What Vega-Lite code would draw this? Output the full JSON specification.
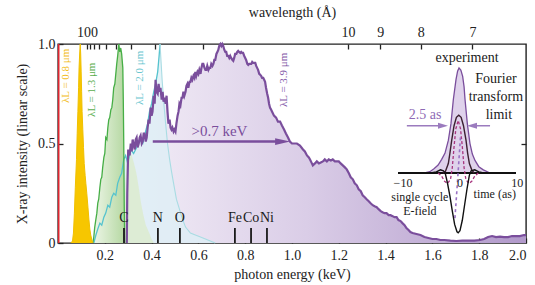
{
  "$schema": "https://vega.github.io/schema/vega-lite/v6.json",
  "width": 468,
  "height": 199,
  "autosize": {"type": "none"},
  "padding": {"left": 58, "top": 44, "right": 9, "bottom": 42},
  "background": "white",
  "config": {
    "font": "Liberation Serif",
    "view": {"stroke": "#222222", "strokeWidth": 1.4},
    "axis": {
      "labelFont": "Liberation Serif", "titleFont": "Liberation Serif",
      "labelFontSize": 14, "titleFontSize": 14, "titleFontWeight": "normal",
      "labelColor": "#222222", "titleColor": "#222222", "grid": false,
      "tickColor": "#222222", "tickSize": -5, "tickWidth": 1.3, "domain": false
    },
    "text": {"font": "Liberation Serif"}
  },
  "datasets": {
    "purple": [
      {"e":0.294,"i":0},{"e":0.296,"i":0.25},{"e":0.300,"i":0.47},{"e":0.306,"i":0.44},{"e":0.311,"i":0.50},{"e":0.315,"i":0.46},{"e":0.319,"i":0.52},{"e":0.324,"i":0.49},{"e":0.328,"i":0.47},{"e":0.332,"i":0.52},{"e":0.336,"i":0.53},{"e":0.340,"i":0.48},{"e":0.345,"i":0.50},{"e":0.349,"i":0.53},{"e":0.353,"i":0.54},{"e":0.358,"i":0.50},{"e":0.362,"i":0.51},{"e":0.366,"i":0.55},{"e":0.370,"i":0.55},{"e":0.375,"i":0.51},{"e":0.379,"i":0.53},{"e":0.383,"i":0.58},{"e":0.387,"i":0.62},{"e":0.391,"i":0.60},{"e":0.396,"i":0.68},{"e":0.400,"i":0.64},{"e":0.404,"i":0.66},{"e":0.409,"i":0.74},{"e":0.413,"i":0.70},{"e":0.417,"i":0.82},{"e":0.421,"i":0.76},{"e":0.426,"i":0.75},{"e":0.430,"i":0.80},{"e":0.434,"i":0.76},{"e":0.438,"i":0.78},{"e":0.443,"i":0.72},{"e":0.447,"i":0.76},{"e":0.451,"i":0.71},{"e":0.455,"i":0.73},{"e":0.460,"i":0.70},{"e":0.464,"i":0.74},{"e":0.468,"i":0.66},{"e":0.472,"i":0.60},{"e":0.477,"i":0.62},{"e":0.481,"i":0.58},{"e":0.485,"i":0.57},{"e":0.489,"i":0.58},{"e":0.494,"i":0.56},{"e":0.498,"i":0.57},{"e":0.502,"i":0.56},{"e":0.506,"i":0.60},{"e":0.511,"i":0.64},{"e":0.515,"i":0.66},{"e":0.519,"i":0.70},{"e":0.523,"i":0.69},{"e":0.528,"i":0.73},{"e":0.532,"i":0.73},{"e":0.536,"i":0.76},{"e":0.540,"i":0.74},{"e":0.545,"i":0.76},{"e":0.549,"i":0.79},{"e":0.553,"i":0.80},{"e":0.557,"i":0.78},{"e":0.562,"i":0.81},{"e":0.566,"i":0.81},{"e":0.570,"i":0.83},{"e":0.574,"i":0.82},{"e":0.579,"i":0.84},{"e":0.583,"i":0.83},{"e":0.587,"i":0.86},{"e":0.591,"i":0.84},{"e":0.596,"i":0.86},{"e":0.600,"i":0.85},{"e":0.604,"i":0.87},{"e":0.609,"i":0.85},{"e":0.613,"i":0.88},{"e":0.617,"i":0.90},{"e":0.621,"i":0.90},{"e":0.626,"i":0.88},{"e":0.630,"i":0.87},{"e":0.634,"i":0.87},{"e":0.638,"i":0.89},{"e":0.643,"i":0.87},{"e":0.647,"i":0.88},{"e":0.651,"i":0.88},{"e":0.655,"i":0.90},{"e":0.660,"i":0.89},{"e":0.664,"i":0.90},{"e":0.668,"i":0.92},{"e":0.672,"i":0.92},{"e":0.677,"i":0.95},{"e":0.681,"i":0.96},{"e":0.685,"i":0.97},{"e":0.689,"i":0.99},{"e":0.694,"i":1.0},{"e":0.698,"i":0.99},{"e":0.702,"i":1.0},{"e":0.706,"i":0.99},{"e":0.711,"i":0.97},{"e":0.715,"i":0.96},{"e":0.719,"i":0.96},{"e":0.723,"i":0.94},{"e":0.728,"i":0.94},{"e":0.732,"i":0.93},{"e":0.736,"i":0.94},{"e":0.740,"i":0.93},{"e":0.745,"i":0.92},{"e":0.749,"i":0.915},{"e":0.753,"i":0.93},{"e":0.757,"i":0.95},{"e":0.762,"i":0.95},{"e":0.766,"i":0.96},{"e":0.770,"i":0.965},{"e":0.774,"i":0.96},{"e":0.779,"i":0.955},{"e":0.783,"i":0.96},{"e":0.787,"i":0.955},{"e":0.791,"i":0.955},{"e":0.796,"i":0.94},{"e":0.800,"i":0.93},{"e":0.804,"i":0.92},{"e":0.809,"i":0.90},{"e":0.813,"i":0.895},{"e":0.817,"i":0.90},{"e":0.821,"i":0.90},{"e":0.826,"i":0.90},{"e":0.830,"i":0.91},{"e":0.834,"i":0.905},{"e":0.838,"i":0.905},{"e":0.843,"i":0.905},{"e":0.847,"i":0.89},{"e":0.851,"i":0.88},{"e":0.855,"i":0.87},{"e":0.860,"i":0.85},{"e":0.864,"i":0.845},{"e":0.868,"i":0.84},{"e":0.872,"i":0.83},{"e":0.877,"i":0.83},{"e":0.881,"i":0.82},{"e":0.885,"i":0.81},{"e":0.889,"i":0.78},{"e":0.894,"i":0.75},{"e":0.898,"i":0.73},{"e":0.902,"i":0.70},{"e":0.906,"i":0.68},{"e":0.911,"i":0.67},{"e":0.915,"i":0.66},{"e":0.923,"i":0.64},{"e":0.932,"i":0.63},{"e":0.940,"i":0.61},{"e":0.949,"i":0.61},{"e":0.957,"i":0.59},{"e":0.966,"i":0.57},{"e":0.974,"i":0.55},{"e":0.983,"i":0.53},{"e":0.991,"i":0.51},{"e":1.000,"i":0.50},{"e":1.009,"i":0.50},{"e":1.021,"i":0.50},{"e":1.034,"i":0.49},{"e":1.047,"i":0.47},{"e":1.055,"i":0.46},{"e":1.064,"i":0.44},{"e":1.072,"i":0.43},{"e":1.077,"i":0.42},{"e":1.085,"i":0.40},{"e":1.089,"i":0.39},{"e":1.098,"i":0.40},{"e":1.106,"i":0.41},{"e":1.115,"i":0.40},{"e":1.123,"i":0.405},{"e":1.132,"i":0.41},{"e":1.140,"i":0.42},{"e":1.149,"i":0.41},{"e":1.157,"i":0.42},{"e":1.166,"i":0.415},{"e":1.174,"i":0.42},{"e":1.183,"i":0.41},{"e":1.191,"i":0.41},{"e":1.200,"i":0.41},{"e":1.208,"i":0.40},{"e":1.217,"i":0.39},{"e":1.226,"i":0.38},{"e":1.234,"i":0.37},{"e":1.243,"i":0.35},{"e":1.251,"i":0.33},{"e":1.260,"i":0.32},{"e":1.268,"i":0.30},{"e":1.277,"i":0.29},{"e":1.285,"i":0.27},{"e":1.294,"i":0.26},{"e":1.302,"i":0.24},{"e":1.311,"i":0.23},{"e":1.319,"i":0.22},{"e":1.328,"i":0.21},{"e":1.336,"i":0.20},{"e":1.345,"i":0.19},{"e":1.353,"i":0.185},{"e":1.362,"i":0.18},{"e":1.370,"i":0.17},{"e":1.379,"i":0.16},{"e":1.387,"i":0.155},{"e":1.396,"i":0.15},{"e":1.404,"i":0.15},{"e":1.413,"i":0.14},{"e":1.421,"i":0.14},{"e":1.430,"i":0.135},{"e":1.438,"i":0.13},{"e":1.447,"i":0.13},{"e":1.455,"i":0.115},{"e":1.464,"i":0.11},{"e":1.472,"i":0.10},{"e":1.481,"i":0.09},{"e":1.489,"i":0.075},{"e":1.498,"i":0.065},{"e":1.506,"i":0.055},{"e":1.515,"i":0.05},{"e":1.532,"i":0.045},{"e":1.549,"i":0.04},{"e":1.566,"i":0.03},{"e":1.583,"i":0.025},{"e":1.600,"i":0.02},{"e":1.617,"i":0.02},{"e":1.634,"i":0.015},{"e":1.651,"i":0.015},{"e":1.677,"i":0.012},{"e":1.702,"i":0.01},{"e":1.728,"i":0.012},{"e":1.753,"i":0.012},{"e":1.779,"i":0.012},{"e":1.804,"i":0.015},{"e":1.821,"i":0.02},{"e":1.838,"i":0.03},{"e":1.855,"i":0.035},{"e":1.872,"i":0.03},{"e":1.889,"i":0.032},{"e":1.906,"i":0.03},{"e":1.923,"i":0.03},{"e":1.940,"i":0.035},{"e":1.957,"i":0.035},{"e":1.974,"i":0.035},{"e":1.991,"i":0.04},{"e":2.0,"i":0.04}
    ],
    "yellow": [
      {"e":0.055,"i":0},{"e":0.062,"i":0.01},{"e":0.066,"i":0.05},{"e":0.070,"i":0.15},{"e":0.074,"i":0.28},{"e":0.079,"i":0.42},{"e":0.082,"i":0.55},{"e":0.085,"i":0.66},{"e":0.088,"i":0.78},{"e":0.090,"i":0.88},{"e":0.093,"i":0.96},{"e":0.095,"i":1.0},{"e":0.097,"i":0.95},{"e":0.099,"i":0.86},{"e":0.101,"i":0.76},{"e":0.103,"i":0.66},{"e":0.106,"i":0.57},{"e":0.109,"i":0.48},{"e":0.112,"i":0.40},{"e":0.116,"i":0.34},{"e":0.119,"i":0.30},{"e":0.123,"i":0.25},{"e":0.128,"i":0.18},{"e":0.132,"i":0.12},{"e":0.136,"i":0.07},{"e":0.140,"i":0.04},{"e":0.145,"i":0.015},{"e":0.149,"i":0}
    ],
    "yellow2": [
      {"e":0.098,"i":0},{"e":0.105,"i":0.1},{"e":0.112,"i":0.16},{"e":0.118,"i":0.18},{"e":0.124,"i":0.15},{"e":0.130,"i":0.10},{"e":0.136,"i":0.05},{"e":0.142,"i":0.02},{"e":0.150,"i":0}
    ],
    "green": [
      {"e":0.149,"i":0},{"e":0.153,"i":0.03},{"e":0.157,"i":0.08},{"e":0.162,"i":0.12},{"e":0.166,"i":0.15},{"e":0.170,"i":0.2},{"e":0.174,"i":0.22},{"e":0.179,"i":0.28},{"e":0.183,"i":0.32},{"e":0.187,"i":0.33},{"e":0.191,"i":0.38},{"e":0.196,"i":0.43},{"e":0.200,"i":0.45},{"e":0.204,"i":0.53},{"e":0.209,"i":0.52},{"e":0.213,"i":0.58},{"e":0.217,"i":0.62},{"e":0.221,"i":0.63},{"e":0.226,"i":0.67},{"e":0.230,"i":0.68},{"e":0.234,"i":0.72},{"e":0.238,"i":0.78},{"e":0.243,"i":0.80},{"e":0.247,"i":0.85},{"e":0.251,"i":0.90},{"e":0.255,"i":0.94},{"e":0.260,"i":1.0},{"e":0.264,"i":0.96},{"e":0.268,"i":0.98},{"e":0.272,"i":0.95},{"e":0.277,"i":0.88},{"e":0.279,"i":0.72},{"e":0.281,"i":0.5},{"e":0.283,"i":0.2},{"e":0.285,"i":0}
    ],
    "green2": [
      {"e":0.285,"i":0},{"e":0.288,"i":0.3},{"e":0.295,"i":0.42},{"e":0.305,"i":0.46},{"e":0.315,"i":0.44},{"e":0.325,"i":0.40},{"e":0.335,"i":0.35},{"e":0.345,"i":0.28},{"e":0.355,"i":0.2},{"e":0.365,"i":0.14},{"e":0.375,"i":0.09},{"e":0.39,"i":0.05},{"e":0.40,"i":0.02},{"e":0.41,"i":0}
    ],
    "cyan": [
      {"e":0.153,"i":0},{"e":0.162,"i":0.04},{"e":0.170,"i":0.07},{"e":0.179,"i":0.1},{"e":0.187,"i":0.09},{"e":0.196,"i":0.13},{"e":0.204,"i":0.15},{"e":0.213,"i":0.19},{"e":0.221,"i":0.18},{"e":0.230,"i":0.23},{"e":0.238,"i":0.25},{"e":0.247,"i":0.24},{"e":0.255,"i":0.30},{"e":0.264,"i":0.33},{"e":0.272,"i":0.35},{"e":0.281,"i":0.42},{"e":0.289,"i":0.44},{"e":0.298,"i":0.40},{"e":0.311,"i":0.47},{"e":0.323,"i":0.45},{"e":0.336,"i":0.48},{"e":0.349,"i":0.52},{"e":0.362,"i":0.50},{"e":0.374,"i":0.56},{"e":0.383,"i":0.60},{"e":0.391,"i":0.66},{"e":0.400,"i":0.70},{"e":0.409,"i":0.76},{"e":0.417,"i":0.80},{"e":0.426,"i":0.86},{"e":0.432,"i":0.94},{"e":0.436,"i":1.0},{"e":0.440,"i":0.92},{"e":0.445,"i":0.82},{"e":0.451,"i":0.72},{"e":0.460,"i":0.60},{"e":0.468,"i":0.50},{"e":0.477,"i":0.42},{"e":0.485,"i":0.36},{"e":0.494,"i":0.30},{"e":0.506,"i":0.22},{"e":0.519,"i":0.17},{"e":0.532,"i":0.12},{"e":0.545,"i":0.08},{"e":0.566,"i":0.05},{"e":0.587,"i":0.04},{"e":0.609,"i":0.03},{"e":0.630,"i":0.02},{"e":0.651,"i":0.01},{"e":0.672,"i":0}
    ],
    "elements": [
      {"e":0.282,"label":"C"},{"e":0.427,"label":"N"},{"e":0.521,"label":"O"},{"e":0.756,"label":"Fe"},{"e":0.825,"label":"Co"},{"e":0.893,"label":"Ni"}
    ],
    "laser": [
      {"e":0.036,"i":0.84,"s":"0.8","text":"λL = 0.8 μm"},
      {"e":0.145,"i":0.77,"s":"1.3","text":"λL = 1.3 μm"},
      {"e":0.352,"i":0.83,"s":"2.0","text":"λL = 2.0 μm"},
      {"e":0.966,"i":0.82,"s":"3.9","text":"λL = 3.9 μm"}
    ],
    "arrow": [{"e":0.405,"i":0.51},{"e":0.955,"i":0.51}],
    "arrowhead": [{"e":0.960,"i":0.51}],
    "keV": [{"e":0.69,"i":0.565,"text":">0.7 keV"}],
    "red": [{"e":0.003}],
    "axisdummy": [{"e":1,"i":0.5}],
    "baseline": [{"t":-10,"v":0},{"t":10,"v":0}],
    "experiment": [
      {"t":-5.5,"v":0},{"t":-4.6,"v":0.012},{"t":-3.9,"v":0.04},{"t":-3.2,"v":0.076},{"t":-2.6,"v":0.13},{"t":-2.03,"v":0.19},{"t":-1.47,"v":0.31},{"t":-1.02,"v":0.47},{"t":-0.62,"v":0.70},{"t":-0.17,"v":0.89},{"t":0.1,"v":0.97},{"t":0.34,"v":1.0},{"t":0.65,"v":0.98},{"t":0.96,"v":0.92},{"t":1.2,"v":0.82},{"t":1.36,"v":0.70},{"t":1.75,"v":0.47},{"t":2.2,"v":0.28},{"t":2.6,"v":0.18},{"t":3.05,"v":0.12},{"t":3.7,"v":0.06},{"t":4.46,"v":0.03},{"t":5.6,"v":0}
    ],
    "ftlimit": [
      {"t":-2.4,"v":0},{"t":-2.0,"v":0.01},{"t":-1.47,"v":0.09},{"t":-1.2,"v":0.19},{"t":-0.9,"v":0.31},{"t":-0.5,"v":0.45},{"t":-0.1,"v":0.53},{"t":0.3,"v":0.55},{"t":0.7,"v":0.53},{"t":1.1,"v":0.45},{"t":1.53,"v":0.31},{"t":1.8,"v":0.19},{"t":2.1,"v":0.09},{"t":2.5,"v":0.03},{"t":2.9,"v":0}
    ],
    "efield": [
      {"t":-4.5,"v":0},{"t":-3.5,"v":0.01},{"t":-2.8,"v":0.03},{"t":-2.3,"v":0.02},{"t":-2.0,"v":0},{"t":-1.6,"v":-0.1},{"t":-1.2,"v":-0.22},{"t":-0.8,"v":-0.36},{"t":-0.4,"v":-0.49},{"t":0,"v":-0.56},{"t":0.2,"v":-0.57},{"t":0.5,"v":-0.55},{"t":0.9,"v":-0.45},{"t":1.3,"v":-0.3},{"t":1.7,"v":-0.15},{"t":2.1,"v":-0.02},{"t":2.4,"v":0.02},{"t":3.0,"v":0.03},{"t":3.7,"v":0.01},{"t":4.5,"v":0}
    ],
    "magenta": [
      {"t":-3.2,"v":0},{"t":-2.6,"v":-0.03},{"t":-2.1,"v":-0.08},{"t":-1.6,"v":-0.1},{"t":-1.1,"v":-0.06},{"t":-0.8,"v":0.05},{"t":-0.5,"v":0.25},{"t":-0.2,"v":0.42},{"t":0.2,"v":0.5},{"t":0.6,"v":0.42},{"t":0.9,"v":0.25},{"t":1.2,"v":0.05},{"t":1.5,"v":-0.06},{"t":2.0,"v":-0.1},{"t":2.5,"v":-0.08},{"t":3.0,"v":-0.03},{"t":3.6,"v":0}
    ],
    "violetdash": [
      {"t":0.6,"v":0.35},{"t":0.3,"v":0.1},{"t":0.0,"v":-0.15},{"t":-0.35,"v":-0.43}
    ],
    "insetarrows": [
      {"g":"left","t":-8.5,"v":0.45},{"g":"left","t":-2.5,"v":0.45},
      {"g":"right","t":5.6,"v":0.45},{"g":"right","t":2.7,"v":0.45}
    ],
    "headleft": [{"t":-2.37,"v":0.45}],
    "headright": [{"t":2.54,"v":0.45}],
    "insetbig": [
      {"t":1.7,"v":1.10,"text":"experiment"},
      {"t":6.6,"v":0.90,"text":"Fourier"},
      {"t":6.6,"v":0.72,"text":"transform"},
      {"t":7.1,"v":0.55,"text":"limit"}
    ],
    "insetsmall": [
      {"t":-9.15,"v":-0.095,"text":"−10"},
      {"t":0.5,"v":-0.095,"text":"0"},
      {"t":10.2,"v":-0.095,"text":"10"},
      {"t":6.4,"v":-0.2,"text":"time (as)"},
      {"t":-6.3,"v":-0.23,"text":"single cycle"},
      {"t":-6.3,"v":-0.365,"text":"E-field"}
    ],
    "duration": [{"t":-5.4,"v":0.55,"text":"2.5 as"}]
  },
  "layer": [
    {
      "layer": [
        {
          "data": {"name": "purple"},
          "mark": {"type": "area", "color": {"gradient": "linear", "x1": 0, "x2": 1, "y1": 0, "y2": 0, "stops": [{"offset": 0, "color": "#F3EEF7"}, {"offset": 0.45, "color": "#DACDE7"}, {"offset": 1, "color": "#B199CA"}]}},
          "encoding": {
            "x": {"field": "e", "type": "quantitative", "scale": {"domain": [0, 2], "nice": false, "zero": false},
              "axis": {"orient": "bottom", "values": [0.2,0.4,0.6,0.8,1.0,1.2,1.4,1.6,1.8,2.0], "format": ".1f", "title": "photon energy (keV)", "labelPadding": 10, "titlePadding": 5, "labelFont": "Liberation Serif", "titleFont": "Liberation Serif"}},
            "y": {"field": "i", "type": "quantitative", "scale": {"domain": [0, 1], "nice": false, "zero": false},
              "axis": {"orient": "left", "values": [0, 0.5, 1], "labelExpr": "datum.value == 0 ? '0' : format(datum.value, '.1f')", "title": "X-ray intensity (linear scale)", "labelPadding": 8, "titlePadding": 8, "labelFont": "Liberation Serif", "titleFont": "Liberation Serif"}}
          }
        },
        {
          "data": {"name": "yellow2"},
          "mark": {"type": "area", "color": "#FAF0A6"},
          "encoding": {"x": {"field": "e", "type": "quantitative"}, "y": {"field": "i", "type": "quantitative"}}
        },
        {
          "data": {"name": "cyan"},
          "mark": {"type": "area", "color": "#DCEFF5", "opacity": 0.75},
          "encoding": {"x": {"field": "e", "type": "quantitative"}, "y": {"field": "i", "type": "quantitative"}}
        },
        {
          "data": {"name": "green2"},
          "mark": {"type": "area", "color": "#DCEBCD", "opacity": 0.8},
          "encoding": {"x": {"field": "e", "type": "quantitative"}, "y": {"field": "i", "type": "quantitative"}}
        },
        {
          "data": {"name": "green"},
          "mark": {"type": "area", "color": {"gradient": "linear", "x1": 0, "x2": 1, "y1": 0, "y2": 0, "stops": [{"offset": 0, "color": "#EEF6E8"}, {"offset": 1, "color": "#B5D8A2"}]}},
          "encoding": {"x": {"field": "e", "type": "quantitative"}, "y": {"field": "i", "type": "quantitative"}}
        },
        {
          "data": {"name": "yellow"},
          "mark": {"type": "area", "color": "#F7C600"},
          "encoding": {"x": {"field": "e", "type": "quantitative"}, "y": {"field": "i", "type": "quantitative"}}
        },
        {
          "data": {"name": "cyan"},
          "transform": [{"filter": "datum.e <= 0.436"}],
          "mark": {"type": "line", "color": "#55C3CE", "strokeWidth": 1.3},
          "encoding": {"x": {"field": "e", "type": "quantitative"}, "y": {"field": "i", "type": "quantitative"}}
        },
        {
          "data": {"name": "cyan"},
          "transform": [{"filter": "datum.e >= 0.436"}],
          "mark": {"type": "line", "color": "#A9DCE3", "strokeWidth": 1.1},
          "encoding": {"x": {"field": "e", "type": "quantitative"}, "y": {"field": "i", "type": "quantitative"}}
        },
        {
          "data": {"name": "green"},
          "mark": {"type": "line", "color": "#46AE46", "strokeWidth": 1.3},
          "encoding": {"x": {"field": "e", "type": "quantitative"}, "y": {"field": "i", "type": "quantitative"}}
        },
        {
          "data": {"name": "yellow"},
          "mark": {"type": "line", "color": "#F0C000", "strokeWidth": 1},
          "encoding": {"x": {"field": "e", "type": "quantitative"}, "y": {"field": "i", "type": "quantitative"}}
        },
        {
          "data": {"name": "purple"},
          "mark": {"type": "line", "color": "#7A4E9C", "strokeWidth": 2.2},
          "encoding": {"x": {"field": "e", "type": "quantitative"}, "y": {"field": "i", "type": "quantitative"}}
        },
        {
          "data": {"name": "red"},
          "mark": {"type": "rule", "color": "#E0262F", "strokeWidth": 1.6},
          "encoding": {"x": {"field": "e", "type": "quantitative"}, "y": {"datum": 0}, "y2": {"datum": 1}}
        },
        {
          "data": {"name": "elements"},
          "mark": {"type": "rule", "color": "#1a1a1a", "strokeWidth": 1.8},
          "encoding": {"x": {"field": "e", "type": "quantitative"}, "y": {"datum": 0}, "y2": {"datum": 0.075}}
        },
        {
          "data": {"name": "elements"},
          "mark": {"type": "text", "fontSize": 14, "color": "#1a1a1a", "baseline": "middle", "align": "center"},
          "encoding": {"x": {"field": "e", "type": "quantitative"}, "y": {"datum": 0.125}, "text": {"field": "label"}}
        },
        {
          "data": {"name": "laser"},
          "mark": {"type": "text", "fontSize": 11, "angle": 270, "baseline": "middle", "align": "center"},
          "encoding": {
            "x": {"field": "e", "type": "quantitative"}, "y": {"field": "i", "type": "quantitative"},
            "text": {"field": "text"},
            "color": {"field": "s", "type": "nominal", "scale": {"domain": ["0.8", "1.3", "2.0", "3.9"], "range": ["#F2BE1E", "#5BAE4E", "#6CC6D0", "#8359A8"]}, "legend": null}
          }
        },
        {
          "data": {"name": "arrow"},
          "mark": {"type": "line", "color": "#7A4E9C", "strokeWidth": 2.5},
          "encoding": {"x": {"field": "e", "type": "quantitative"}, "y": {"field": "i", "type": "quantitative"}}
        },
        {
          "data": {"name": "arrowhead"},
          "mark": {"type": "point", "shape": "M-1,-0.45L1,0L-1,0.45Z", "size": 225, "filled": true, "opacity": 1, "color": "#7A4E9C"},
          "encoding": {"x": {"field": "e", "type": "quantitative"}, "y": {"field": "i", "type": "quantitative"}}
        },
        {
          "data": {"name": "keV"},
          "mark": {"type": "text", "fontSize": 15, "color": "#7A4E9C", "baseline": "middle", "align": "center"},
          "encoding": {"x": {"field": "e", "type": "quantitative"}, "y": {"field": "i", "type": "quantitative"}, "text": {"field": "text"}}
        }
      ]
    },
    {
      "layer": [
        {
          "data": {"name": "axisdummy"},
          "mark": {"type": "point", "opacity": 0},
          "encoding": {
            "x": {"field": "e", "type": "quantitative", "scale": {"domain": [0, 2], "nice": false, "zero": false},
              "axis": {"orient": "top", "values": [0.12398,0.13776,0.15498,0.17711,0.20663,0.24796,0.30995,0.41327,0.6199,1.2398,1.37756,1.54975,1.77114],
                "labelExpr": "indexof([100,10,9,8,7], round(12.398/datum.value)) >= 0 ? '' + round(12.398/datum.value) : ''",
                "title": "wavelength (Å)", "labelPadding": 10, "titlePadding": 6, "labelFont": "Liberation Serif", "titleFont": "Liberation Serif"}},
            "y": {"field": "i", "type": "quantitative", "scale": {"domain": [0, 1], "nice": false, "zero": false},
              "axis": {"orient": "right", "values": [0.5], "labels": false, "title": null}}
          }
        }
      ]
    },
    {
      "layer": [
        {
          "data": {"name": "experiment"},
          "mark": {"type": "area", "color": "#D2BFE3", "line": {"color": "#7A4E9C", "strokeWidth": 1.3}},
          "encoding": {
            "x": {"field": "t", "type": "quantitative", "scale": {"domain": [-10, 10], "range": [340, 458], "nice": false, "zero": false}, "axis": null},
            "y": {"field": "v", "type": "quantitative", "scale": {"domain": [0, 1], "range": [129, 24], "nice": false, "zero": false}, "axis": null}
          }
        },
        {
          "data": {"name": "baseline"},
          "mark": {"type": "line", "color": "#111111", "strokeWidth": 2},
          "encoding": {"x": {"field": "t", "type": "quantitative", "axis": null}, "y": {"field": "v", "type": "quantitative", "axis": null}}
        },
        {
          "data": {"name": "ftlimit"},
          "mark": {"type": "line", "color": "#3B2030", "strokeWidth": 1.4},
          "encoding": {"x": {"field": "t", "type": "quantitative", "axis": null}, "y": {"field": "v", "type": "quantitative", "axis": null}}
        },
        {
          "data": {"name": "magenta"},
          "mark": {"type": "line", "color": "#A8357F", "strokeWidth": 1.3, "strokeDash": [3, 2]},
          "encoding": {"x": {"field": "t", "type": "quantitative", "axis": null}, "y": {"field": "v", "type": "quantitative", "axis": null}}
        },
        {
          "data": {"name": "violetdash"},
          "mark": {"type": "line", "color": "#9A72C4", "strokeWidth": 1.6, "strokeDash": [3, 3]},
          "encoding": {"x": {"field": "t", "type": "quantitative", "axis": null}, "y": {"field": "v", "type": "quantitative", "axis": null}}
        },
        {
          "data": {"name": "efield"},
          "mark": {"type": "line", "color": "#111111", "strokeWidth": 1.4},
          "encoding": {"x": {"field": "t", "type": "quantitative", "axis": null}, "y": {"field": "v", "type": "quantitative", "axis": null}}
        },
        {
          "data": {"name": "insetarrows"},
          "mark": {"type": "line", "color": "#9B7BBE", "strokeWidth": 1.5},
          "encoding": {"x": {"field": "t", "type": "quantitative", "axis": null}, "y": {"field": "v", "type": "quantitative", "axis": null}, "detail": {"field": "g"}}
        },
        {
          "data": {"name": "headleft"},
          "mark": {"type": "point", "shape": "M-1,-0.6L1,0L-1,0.6Z", "size": 100, "filled": true, "opacity": 1, "color": "#9B7BBE"},
          "encoding": {"x": {"field": "t", "type": "quantitative", "axis": null}, "y": {"field": "v", "type": "quantitative", "axis": null}}
        },
        {
          "data": {"name": "headright"},
          "mark": {"type": "point", "shape": "M1,-0.6L-1,0L1,0.6Z", "size": 100, "filled": true, "opacity": 1, "color": "#9B7BBE"},
          "encoding": {"x": {"field": "t", "type": "quantitative", "axis": null}, "y": {"field": "v", "type": "quantitative", "axis": null}}
        },
        {
          "data": {"name": "insetbig"},
          "mark": {"type": "text", "fontSize": 14, "color": "#1a1a1a", "baseline": "middle", "align": "center"},
          "encoding": {"x": {"field": "t", "type": "quantitative", "axis": null}, "y": {"field": "v", "type": "quantitative", "axis": null}, "text": {"field": "text"}}
        },
        {
          "data": {"name": "insetsmall"},
          "mark": {"type": "text", "fontSize": 12, "color": "#1a1a1a", "baseline": "middle", "align": "center"},
          "encoding": {"x": {"field": "t", "type": "quantitative", "axis": null}, "y": {"field": "v", "type": "quantitative", "axis": null}, "text": {"field": "text"}}
        },
        {
          "data": {"name": "duration"},
          "mark": {"type": "text", "fontSize": 14, "color": "#8E6AB5", "baseline": "middle", "align": "center"},
          "encoding": {"x": {"field": "t", "type": "quantitative", "axis": null}, "y": {"field": "v", "type": "quantitative", "axis": null}, "text": {"field": "text"}}
        }
      ]
    }
  ],
  "resolve": {"scale": {"x": "independent", "y": "independent"}}
}
